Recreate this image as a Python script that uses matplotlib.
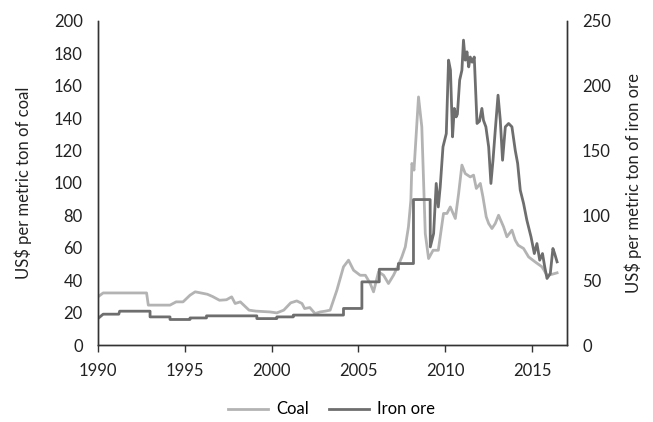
import matplotlib.pyplot as plt

plt.rcParams['font.family'] = ['Lato', 'DejaVu Sans']

# coal price, US$ per metric ton (left axis)
coal_years = [1990.0, 1990.3, 1992.8, 1992.9, 1994.15, 1994.5, 1994.9, 1995.3, 1995.6,
              1996.3, 1996.6, 1997.0, 1997.4, 1997.7, 1997.9, 1998.2, 1998.7, 1999.1,
              1999.9, 2000.3, 2000.7, 2001.1, 2001.45, 2001.75, 2001.9, 2002.2, 2002.5,
              2002.8, 2003.1, 2003.37, 2003.76, 2004.14, 2004.43, 2004.72, 2005.1, 2005.4,
              2005.68, 2005.87, 2006.16, 2006.45, 2006.73, 2007.02, 2007.3, 2007.5, 2007.7,
              2007.88, 2008.02, 2008.08, 2008.2, 2008.46, 2008.65, 2008.85, 2009.04, 2009.3,
              2009.6, 2009.9, 2010.1, 2010.29, 2010.58, 2010.77, 2010.96, 2011.15, 2011.44,
              2011.63, 2011.79, 2012.02, 2012.17, 2012.36, 2012.5, 2012.69, 2012.88, 2013.07,
              2013.36, 2013.55, 2013.84, 2014.03, 2014.2, 2014.51, 2014.8, 2015.18, 2015.57,
              2015.86, 2016.15, 2016.44]
coal = [29.8, 32.2, 32.2, 24.7, 24.7, 26.7, 26.7, 30.8, 32.9,
        31.4, 30.0, 27.7, 28.0, 29.8, 25.7, 26.7, 21.6, 21.0,
        20.5, 19.9, 21.6, 26.1, 27.3, 25.7, 22.6, 23.2, 19.5,
        20.5, 21.0, 21.6, 33.9, 48.3, 52.4, 46.2, 43.1, 43.1,
        38.0, 32.9, 45.2, 43.1, 38.0, 43.1, 49.3, 54.4, 60.6,
        72.9, 89.4, 112.0, 107.9, 153.0, 134.5, 68.8, 53.4, 58.5,
        58.5, 81.2, 81.2, 85.2, 78.1, 93.5, 111.0, 105.8, 103.7,
        104.8, 96.6, 99.7, 91.4, 79.1, 75.0, 71.9, 75.0, 80.1,
        72.9, 66.8, 70.9, 64.7, 61.6, 59.6, 54.4, 51.3, 48.3,
        43.1, 43.7, 44.6]

# iron ore price, US$ per metric ton (right axis)
iron_years = [1990.0, 1990.3, 1991.2, 1991.25, 1993.0, 1993.0, 1994.15, 1994.15, 1995.3,
              1995.3, 1996.25, 1996.25, 1999.15, 1999.15, 2000.3, 2000.3, 2001.25, 2001.25,
              2004.14, 2004.14, 2005.2, 2005.2, 2006.2, 2006.2, 2007.3, 2007.3, 2008.17,
              2008.17, 2009.13, 2009.14, 2009.33, 2009.48, 2009.6, 2009.71, 2009.87, 2010.06,
              2010.19, 2010.3, 2010.42, 2010.52, 2010.63, 2010.7, 2010.83, 2010.96, 2011.05,
              2011.15, 2011.25, 2011.35, 2011.44, 2011.55, 2011.67, 2011.83, 2011.97, 2012.11,
              2012.2, 2012.34, 2012.5, 2012.63, 2012.75, 2012.88, 2013.04, 2013.17, 2013.3,
              2013.46, 2013.65, 2013.84, 2014.03, 2014.17, 2014.32, 2014.51, 2014.7, 2014.94,
              2015.13, 2015.28, 2015.44, 2015.6, 2015.73, 2015.86, 2016.05, 2016.2, 2016.3,
              2016.44]
iron = [20.5, 23.9, 23.9, 26.2, 26.2, 21.8, 21.8, 19.8, 19.8,
        21.0, 21.0, 22.6, 22.6, 20.5, 20.5, 21.8, 21.8, 23.2,
        23.2, 28.3, 28.3, 48.8, 48.8, 58.5, 58.5, 62.9, 62.9,
        112.2, 112.2, 75.7, 86.0, 124.6, 106.5, 122.0, 152.8, 163.0,
        219.6, 211.9, 160.5, 182.4, 175.9, 178.0, 204.2, 211.9, 235.0,
        219.6, 226.0, 214.4, 222.0, 218.0, 222.0, 170.8, 172.5, 182.4,
        173.3, 168.2, 152.8, 124.6, 142.5, 165.6, 192.6, 173.3, 142.5,
        168.2, 170.8, 168.2, 150.2, 140.0, 119.4, 109.2, 96.3, 83.4,
        70.6, 78.3, 65.5, 70.6, 60.3, 51.4, 55.2, 74.5, 70.6,
        64.2]

fig = plt.figure(figsize=(6.53, 4.22), dpi=100)
ax = fig.add_axes([0.150, 0.182, 0.718, 0.769])
ax2 = ax.twinx()

axis_col = '#333333'
l1, = ax.plot(coal_years, coal, color='#b3b3b3', lw=2.0, label='Coal')
l2, = ax2.plot(iron_years, iron, color='#6e6e6e', lw=2.0, label='Iron ore')

ax.set_xlim(1990, 2017)
ax.set_ylim(0, 200)
ax2.set_ylim(0, 250)
ax.set_xticks(range(1990, 2016, 5))
ax.set_yticks(range(0, 201, 20))
ax2.set_yticks(range(0, 251, 50))

for a in (ax, ax2):
    a.spines['top'].set_visible(False)
    for s in ('left', 'right', 'bottom'):
        a.spines[s].set_color(axis_col)
        a.spines[s].set_linewidth(1.0)
    a.tick_params(axis='y', length=0, labelsize=12, colors='#222222', pad=11)
ax.tick_params(axis='x', direction='out', length=5, width=1, color=axis_col,
               labelsize=12, labelcolor='#222222', pad=8)

ax.set_ylabel('US$ per metric ton of coal', fontsize=12, color='#222222')
ax2.set_ylabel('US$ per metric ton of iron ore', fontsize=12, color='#222222')
ax.yaxis.set_label_coords(-0.141, 0.5)
ax2.yaxis.set_label_coords(1.124, 0.5)

fig.legend(handles=[l1, l2], loc='center', bbox_to_anchor=(0.508, 0.03), ncol=2,
           frameon=False, fontsize=12, handlelength=2.4, columnspacing=1.2,
           handletextpad=0.5)

fig.savefig('out.png', dpi=100)
